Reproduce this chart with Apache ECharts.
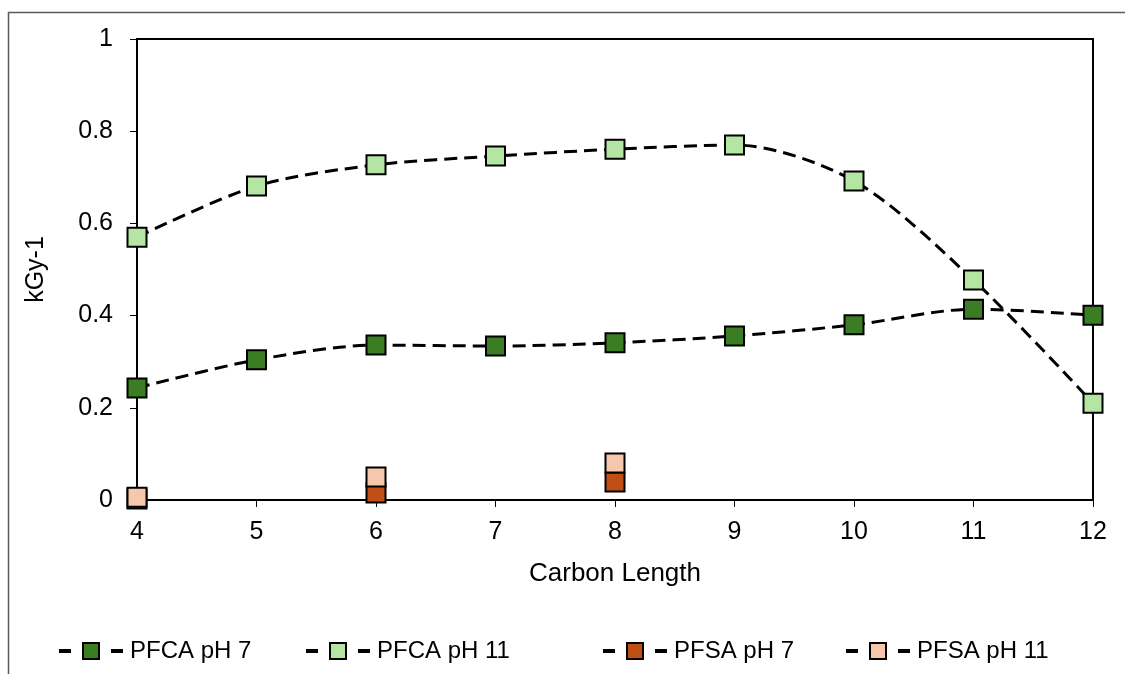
<!DOCTYPE html>
<html>
<head>
<meta charset="utf-8">
<script src="https://cdn.jsdelivr.net/npm/echarts@6/dist/echarts.min.js"></script>
<style>
  html, body { margin: 0; padding: 0; background: #fff; }
  #chart { width: 1125px; height: 674px; }
</style>
</head>
<body>
<div id="chart"></div>
<script>
// Carbon chain length on the x axis
const carbonLength = [4, 5, 6, 7, 8, 9, 10, 11, 12];
// Rate constants (kGy-1)
const pfcaPh7  = [0.243, 0.304, 0.336, 0.334, 0.341, 0.356, 0.380, 0.414, 0.401];
const pfcaPh11 = [0.570, 0.681, 0.727, 0.746, 0.761, 0.770, 0.692, 0.477, 0.210];
// Sulfonates only measured at C4, C6 and C8 (null = not measured)
const pfsaPh7  = [0.002, null, 0.015, null, 0.039, null, null, null, null];
const pfsaPh11 = [0.006, null, 0.050, null, 0.080, null, null, null, null];
const yTicks = [0, 0.2, 0.4, 0.6, 0.8, 1];

const FONT = 'Liberation Sans, Arial, sans-serif';

function pairs(values) {
  return carbonLength.map((c, i) => [c, values[i] === null ? '-' : values[i]]);
}

const seriesDefs = [
  { name: 'PFCA pH 7',  values: pfcaPh7,  color: '#3B7D23' },
  { name: 'PFCA pH 11', values: pfcaPh11, color: '#B4E5A2' },
  { name: 'PFSA pH 7',  values: pfsaPh7,  color: '#C04F15' },
  { name: 'PFSA pH 11', values: pfsaPh11, color: '#F6C6AD' }
];

const legendLeft = [57, 304, 601, 844];

const chart = echarts.init(document.getElementById('chart'), null, { renderer: 'canvas' });

chart.setOption({
  animation: false,
  backgroundColor: '#fff',
  textStyle: { fontFamily: FONT },
  graphic: [{
    type: 'rect',
    left: 6, top: 10,
    shape: { x: 0, y: 0, width: 1300, height: 900 },
    style: { fill: 'none', stroke: '#595959', lineWidth: 1.5 },
    silent: true
  }],
  grid: {
    left: 137, right: 32, top: 39, bottom: 174,
    show: true, borderColor: '#000', borderWidth: 2
  },
  xAxis: {
    type: 'value', min: 4, max: 12, interval: 1,
    name: 'Carbon Length', nameLocation: 'middle', nameGap: 61,
    nameTextStyle: { fontSize: 26, color: '#000', fontFamily: FONT },
    axisLine: { show: true, onZero: false, lineStyle: { color: '#000', width: 2 } },
    axisTick: { show: true, inside: false, length: 7, lineStyle: { color: '#000', width: 1 } },
    axisLabel: { fontSize: 25, color: '#000', margin: 20, fontFamily: FONT },
    splitLine: { show: false }
  },
  yAxis: {
    type: 'value', min: 0, max: 1, interval: 0.2,
    name: 'kGy-1', nameLocation: 'middle', nameGap: 88, nameRotate: 90,
    nameTextStyle: { fontSize: 25, color: '#000', fontFamily: FONT },
    axisLine: { show: true, lineStyle: { color: '#000', width: 2 } },
    axisTick: { show: true, inside: false, length: 7, lineStyle: { color: '#000', width: 1 } },
    axisLabel: {
      fontSize: 25, color: '#000', margin: 24, fontFamily: FONT,
      formatter: v => String(yTicks.find(t => Math.abs(t - v) < 1e-9) ?? v)
    },
    splitLine: { show: false }
  },
  legend: seriesDefs.map((s, i) => ({
    data: [s.name],
    left: legendLeft[i], top: 639,
    padding: 0,
    itemWidth: 64, itemHeight: 20, itemGap: 0,
    textStyle: { fontSize: 24, color: '#000', fontFamily: FONT, padding: [0, 0, 0, 2] },
    lineStyle: { type: [12, 40], width: 4, color: '#000', cap: 'butt' },
    itemStyle: { borderColor: '#000', borderWidth: 2 }
  })),
  series: seriesDefs.map(s => ({
    name: s.name,
    type: 'line',
    data: pairs(s.values),
    smooth: 0.3,
    connectNulls: false,
    symbol: 'rect',
    symbolSize: 19,
    showAllSymbol: true,
    lineStyle: { color: '#000', width: 3, type: [13, 7], cap: 'butt' },
    itemStyle: { color: s.color, borderColor: '#000', borderWidth: 2 },
    emphasis: { disabled: true }
  }))
});
</script>
</body>
</html>
